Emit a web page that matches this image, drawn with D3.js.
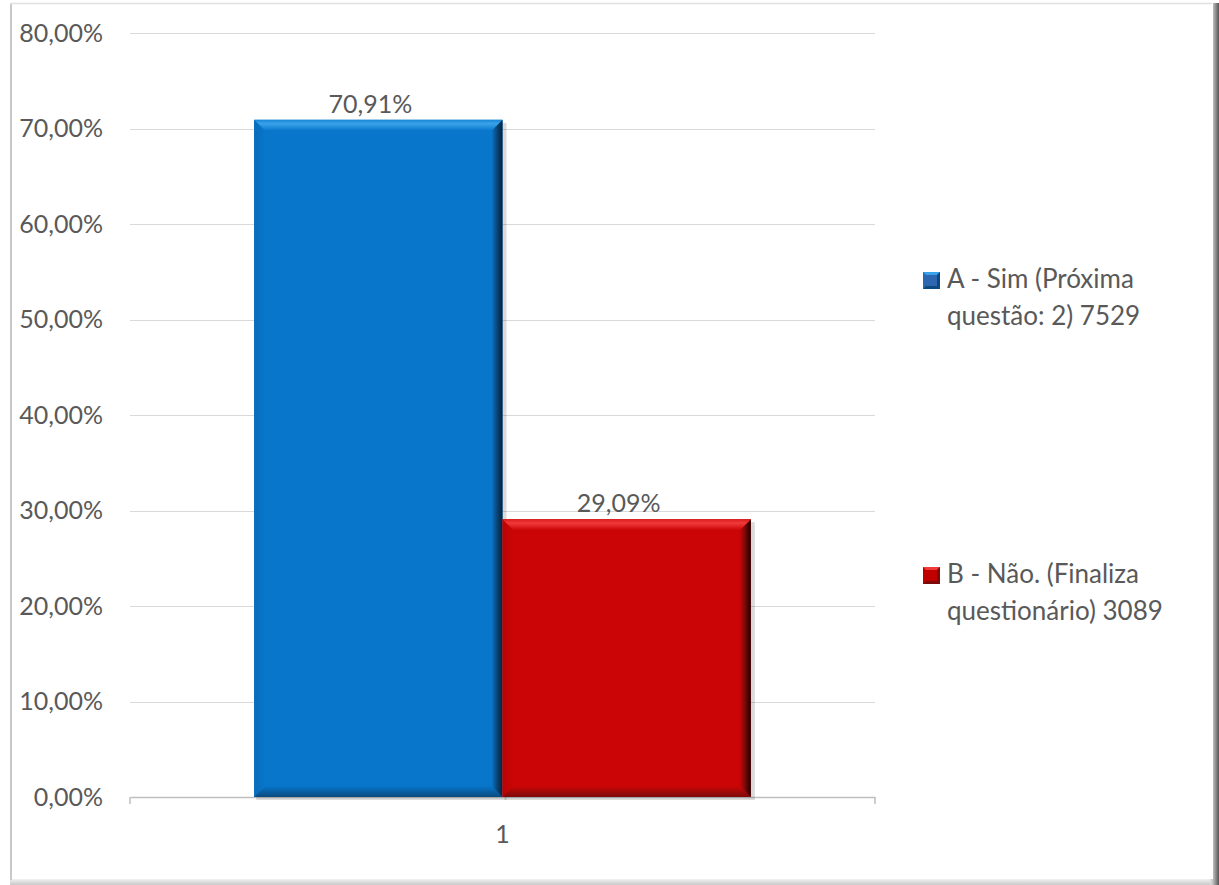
<!DOCTYPE html>
<html><head><meta charset="utf-8">
<script src="https://cdn.jsdelivr.net/npm/d3@7"></script>
<style>
html,body{margin:0;padding:0;background:#fff;}
text{font-family:Lato,"Noto Sans",sans-serif;fill:#595959;}
</style></head>
<body>
<svg id="c" width="1219" height="885"></svg>
<script>
const categories = ["1"];
const seriesNames = ["A - Sim (Próxima questão: 2) 7529", "B - Não. (Finaliza questionário) 3089"];
const legendLines = [["A - Sim (Próxima", "questão: 2) 7529"], ["B - Não. (Finaliza", "questionário) 3089"]];
const seriesValues = [70.91, 29.09];
const valueLabels = ["70,91%", "29,09%"];
const yTicks = [0, 10, 20, 30, 40, 50, 60, 70, 80];
const yTickLabels = ["0,00%", "10,00%", "20,00%", "30,00%", "40,00%", "50,00%", "60,00%", "70,00%", "80,00%"];

(function(){
const colors = [
  {base:"#0776cb", light:"#3aa2ea", edge:"#1a86d4", left:"#0a6cb8", dark:"#01213d", bottom:"#0b4a7e", marker:"#2e67b1"},
  {base:"#cb0505", light:"#f03a3a", edge:"#dd1a1a", left:"#b80404", dark:"#200000", bottom:"#7c0a0a", marker:"#c00000"}
];

const svg = d3.select("#c");
const defs = svg.append("defs");

function grad(id, vertical, stops){
  const g = defs.append("linearGradient").attr("id",id)
    .attr("x1","0").attr("y1","0").attr("x2", vertical?"0":"1").attr("y2", vertical?"1":"0");
  stops.forEach(s=>g.append("stop").attr("offset",s[0]).attr("stop-color",s[1]));
}

// frame with shadow
grad("rshadow", false, [[0,"#ffffff"],[0.45,"#c8c8c8"],[1,"#555555"]]);
grad("bshadow", true, [[0,"#ffffff"],[1,"#c9c9c9"]]);
svg.append("rect").attr("x",1207).attr("y",3).attr("width",12).attr("height",882).attr("fill","url(#rshadow)");
svg.append("rect").attr("x",10).attr("y",877).attr("width",1200).attr("height",8).attr("fill","url(#bshadow)");
svg.append("rect").attr("x",10).attr("y",2).attr("width",1203).attr("height",877).attr("fill","#fff");
svg.append("line").attr("x1",11).attr("x2",11).attr("y1",3).attr("y2",880).attr("stroke","#c8c8c8").attr("stroke-width",2);
svg.append("line").attr("x1",10).attr("x2",1212).attr("y1",3.5).attr("y2",3.5).attr("stroke","#e0e0e0").attr("stroke-width",1.5);

const pLeft = 130, pRight = 875, pTop = 33, pBottom = 797;
const y = d3.scaleLinear().domain([0, 80]).range([pBottom, pTop]);
const x0 = d3.scaleBand().domain(categories).range([pLeft, pRight]).paddingInner(0).paddingOuter(0);
const x1 = d3.scaleBand().domain(d3.range(seriesValues.length)).range([0, x0.bandwidth()]).paddingInner(0).paddingOuter(0.5);

// gridlines
svg.append("g").selectAll("line").data(yTicks.filter(d=>d>0)).join("line")
  .attr("x1", pLeft).attr("x2", pRight)
  .attr("y1", d=>Math.round(y(d))+0.5).attr("y2", d=>Math.round(y(d))+0.5)
  .attr("stroke","#d9d9d9").attr("stroke-width",1);

// y tick labels
svg.append("g").selectAll("text").data(yTicks).join("text")
  .attr("x", 103).attr("y", d=>y(d)).attr("dy","0.35em")
  .attr("text-anchor","end").attr("font-size",25)
  .text((d,i)=>yTickLabels[i]);

// x axis
const xAxis = d3.axisBottom(x0).tickSize(0).tickFormat(()=>"");
const ax = svg.append("g").attr("transform",`translate(0,${pBottom})`).call(xAxis);
ax.select(".domain").attr("stroke","#bfbfbf").attr("stroke-width",1.5);
ax.selectAll(".tick").remove();
svg.append("g").selectAll("line").data([pLeft, pRight]).join("line")
  .attr("x1",d=>d).attr("x2",d=>d).attr("y1",pBottom).attr("y2",pBottom+7)
  .attr("stroke","#bfbfbf").attr("stroke-width",1.5);
svg.append("g").selectAll("text").data(categories).join("text")
  .attr("x", d=>x0(d)+x0.bandwidth()/2).attr("y", 843)
  .attr("text-anchor","middle").attr("font-size",25).text(d=>d);

// bars with bevel
const bv = 11;
categories.forEach(cat => {
  seriesValues.forEach((v, i) => {
    const bx = x0(cat) + x1(i), bw = x1.bandwidth();
    const by = y(v), bh = pBottom - by;
    const c = colors[i];
    grad("top"+i, true, [[0,c.edge],[0.35,c.light],[1,c.base]]);
    grad("rgt"+i, false, [[0,c.base],[0.45,c.bottom],[1,c.dark]]);
    grad("bot"+i, true, [[0,c.base],[1,c.bottom]]);
    grad("lft"+i, false, [[0,c.left],[1,c.base]]);
    const g = svg.append("g");
    g.append("rect").attr("x",bx+2).attr("y",by+3).attr("width",bw+2).attr("height",bh).attr("fill","rgba(0,0,0,0.14)");
    g.append("rect").attr("x",bx).attr("y",by).attr("width",bw).attr("height",bh).attr("fill",c.base);
    const x2 = bx+bw, y2 = by+bh;
    g.append("polygon").attr("points",[[bx,by],[bx+bv,by+bv],[bx+bv,y2-bv],[bx,y2]].join(" ")).attr("fill",`url(#lft${i})`);
    g.append("polygon").attr("points",[[bx,y2],[x2,y2],[x2-bv,y2-bv],[bx+bv,y2-bv]].join(" ")).attr("fill",`url(#bot${i})`);
    g.append("polygon").attr("points",[[x2,by],[x2,y2],[x2-bv,y2-bv],[x2-bv,by+bv]].join(" ")).attr("fill",`url(#rgt${i})`);
    g.append("polygon").attr("points",[[bx,by],[x2,by],[x2-bv,by+bv],[bx+bv,by+bv]].join(" ")).attr("fill",`url(#top${i})`);
    svg.append("text").attr("x", bx+bw/2-8).attr("y", by-7)
      .attr("text-anchor","middle").attr("font-size",25).text(valueLabels[i]);
  });
});

// legend
const legY = [272, 567];
seriesNames.forEach((s, i) => {
  const c = colors[i];
  const g = svg.append("g").attr("transform",`translate(923,${legY[i]})`);
  const m = 17;
  g.append("rect").attr("width",m).attr("height",m).attr("fill",c.marker);
  g.append("polygon").attr("points",[[0,0],[m,0],[m/2,m/2]].join(" ")).attr("fill",c.light);
  g.append("polygon").attr("points",[[0,m],[m,m],[m/2,m/2]].join(" ")).attr("fill",c.bottom);
  g.append("polygon").attr("points",[[m,0],[m,m],[m/2,m/2]].join(" ")).attr("fill",c.bottom);
  g.append("rect").attr("x",3).attr("y",3).attr("width",m-6).attr("height",m-6).attr("fill",c.marker);
  legendLines[i].forEach((ln, j) => {
    g.append("text").attr("x", 24).attr("y", 16 + j*37).attr("font-size",26).text(ln);
  });
});
})();
</script>
</body></html>
